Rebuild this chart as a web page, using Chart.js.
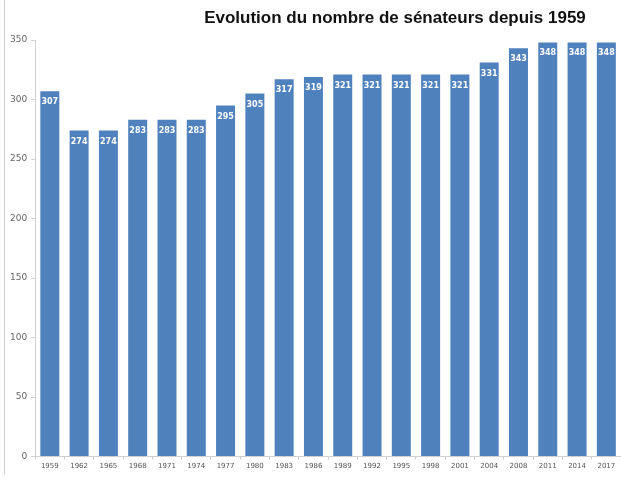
<!DOCTYPE html>
<html>
<head>
<meta charset="utf-8">
<script src="https://cdn.jsdelivr.net/npm/chart.js@4/dist/chart.umd.min.js"></script>
<style>
  body { margin: 0; background: #fff; }
  #wrap { position: relative; width: 621px; height: 480px; }
  #edge { position: absolute; left: 4px; top: 0; width: 1px; height: 475px; background: #d0d0d0; }
</style>
</head>
<body>
<div id="wrap">
  <div id="edge"></div>
  <canvas id="chart" width="621" height="480"></canvas>
</div>
<script>
var years = ['1959', '1962', '1965', '1968', '1971', '1974', '1977', '1980', '1983', '1986',
             '1989', '1992', '1995', '1998', '2001', '2004', '2008', '2011', '2014', '2017'];
var senators = [307, 274, 274, 283, 283, 283, 295, 305, 317, 319,
                321, 321, 321, 321, 321, 331, 343, 348, 348, 348];
var yTicks = [0, 50, 100, 150, 200, 250, 300, 350];
var chartTitle = 'Evolution du nombre de sénateurs depuis 1959';

// title drawn by hand, it sits right of centre in the original
var titlePlugin = {
    id: 'sideTitle',
    afterDraw: function(chart) {
        var ctx = chart.ctx;
        ctx.save();
        ctx.font = 'bold 17px "Liberation Sans", sans-serif';
        ctx.fillStyle = '#111';
        ctx.textAlign = 'center';
        ctx.textBaseline = 'middle';
        ctx.fillText(chartTitle, 395, 18);
        ctx.restore();
    }
};

// white value labels at the top of each bar
var valuePlugin = {
    id: 'barValues',
    afterDatasetsDraw: function(chart) {
        var ctx = chart.ctx;
        var meta = chart.getDatasetMeta(0);
        ctx.save();
        ctx.font = 'bold 8px "DejaVu Sans", sans-serif';
        ctx.fillStyle = '#fff';
        ctx.textAlign = 'center';
        ctx.textBaseline = 'middle';
        meta.data.forEach(function(bar, i) {
            ctx.fillText(senators[i], bar.x, bar.y + 11);
        });
        ctx.restore();
    }
};

var ctx = document.getElementById('chart').getContext('2d');
var chart = new Chart(ctx, {
    type: 'bar',
    data: {
        labels: years,
        datasets: [{
            data: senators,
            backgroundColor: '#4f81bd',
            borderWidth: 0,
            barPercentage: 0.72,
            categoryPercentage: 0.9
        }]
    },
    options: {
        responsive: false,
        animation: false,
        layout: { padding: { top: 40, right: 0, bottom: 8, left: 6 } },
        plugins: {
            legend: { display: false },
            title: { display: false },
            tooltip: { enabled: false }
        },
        scales: {
            x: {
                grid: { display: true, drawOnChartArea: false, tickLength: 3, color: '#d0d0d0' },
                border: { color: '#d0d0d0' },
                ticks: { color: '#555', font: { size: 7, family: '"DejaVu Sans", sans-serif' }, padding: 2, maxRotation: 0, autoSkip: false }
            },
            y: {
                min: 0,
                max: 350,
                afterBuildTicks: function(axis) {
                    axis.ticks = yTicks.map(function(v) { return { value: v }; });
                },
                grid: { display: true, drawOnChartArea: false, tickLength: 4, color: '#d0d0d0' },
                border: { color: '#d0d0d0' },
                ticks: { color: '#666', font: { size: 9, family: '"DejaVu Sans", sans-serif' }, padding: 4 }
            }
        }
    },
    plugins: [titlePlugin, valuePlugin]
});
</script>
</body>
</html>
